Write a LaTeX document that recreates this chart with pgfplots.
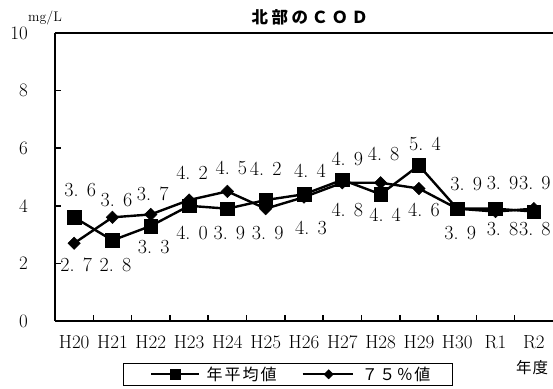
\documentclass[border=0pt]{standalone}
\usepackage{pgfplots}
\usepackage{pgfplotstable}
\pgfplotsset{compat=1.18}
\usepackage{fontspec}
\newfontfamily\cjk{Noto Sans CJK JP}

\pgfplotstableread{
x y dx dy
0 3.6 6 27
1 2.8 3 -25
2 3.3 3 -21
3 4.0 3 -27
4 3.9 2 -24
5 4.2 0 31
6 4.4 6 23
7 4.9 5 21
8 4.4 4.5 -21
9 5.4 6 22
10 3.9 9 25
11 3.9 7 26
12 3.8 1 -17
}\avg

\pgfplotstableread{
x y dx dy
0 2.7 2 -22
1 3.6 4 17
2 3.7 2 21
3 4.2 3 27
4 4.5 4 23
5 3.9 2 -24
6 4.3 7 -31
7 4.8 5 -27
8 4.8 3 29
9 4.6 5 -21
10 3.9 3 -24
11 3.8 7 -17
12 3.9 1 26
}\pct

\begin{document}
\begin{tikzpicture}
\begin{axis}[
  scale only axis, width=498pt, height=288pt,
  xmin=-0.5, xmax=12.5, ymin=0, ymax=10,
  enlargelimits=false, clip=false,
  axis x line=box, axis y line=left,
  axis line style={-, line width=2pt, black},
  xtick={0,...,12},
  xticklabels={H20,H21,H22,H23,H24,H25,H26,H27,H28,H29,H30,R1,R2},
  major x tick style={draw=none},
  minor xtick={0.5,1.5,...,11.5},
  minor x tick style={black, line width=1.5pt},
  minor tick length=6pt,
  xtick pos=bottom,
  ytick={0,2,...,10},
  ytick pos=left,
  y tick style={black, line width=1.5pt},
  major tick length=6pt,
  tick align=inside,
  xticklabel style={font=\fontsize{19}{19}\selectfont, anchor=north, inner sep=0pt, yshift=-14pt},
  yticklabel style={font=\fontsize{19}{19}\selectfont, anchor=east, inner sep=0pt, xshift=-27pt},
  /pgf/number format/assume math mode=true,
  legend columns=2,
  legend style={draw=black, line width=0.6pt, at={(0.1365,-0.1458)}, anchor=north west,
    font=\cjk\fontsize{16}{18}\selectfont, inner xsep=20pt, inner ysep=1.5pt,
    nodes={inner sep=2pt},
    /tikz/every even column/.append style={column sep=23pt}},
  legend cell align=left,
  nodes near coords={\pgfmathprintnumber[fixed,precision=1,zerofill,assume math mode=true,set decimal separator={\makebox[0.66em][l]{.}}]{\pgfplotspointmeta}},
  point meta=y,
  every node near coord/.append style={anchor=center, inner sep=0pt, font=\fontsize{20}{20}\selectfont, black},
  visualization depends on={\thisrow{dx} \as \dx},
  visualization depends on={\thisrow{dy} \as \dy},
  nodes near coords style={xshift={\dx pt}, yshift={\dy pt}},
]
\addplot[black, line width=2.4pt, mark=square*, mark size=6.8pt, mark options={solid, line width=0.5pt},
  legend image code/.code={\path (0pt,0pt); \draw[black, line width=2.2pt] (7pt,0pt) -- (55pt,0pt);
    \draw[black, line width=0.4pt, mark=square*, mark size=4.8pt] plot coordinates {(31pt,0pt)};}]
  table[x=x, y=y] {\avg};
\addlegendentry{\hspace{4pt}年\kern2pt 平\kern2pt 均\kern2pt 値}
\addplot[black, line width=2.4pt, mark=square*, mark size=4.4pt, mark options={solid, rotate=45, line width=0.5pt},
  legend image code/.code={\draw[black, line width=2.2pt] (0pt,0pt) -- (50pt,0pt);
    \draw[black, line width=0.4pt, mark=square*, mark size=3.3pt, mark options={rotate=45}] plot coordinates {(26pt,0pt)};}]
  table[x=x, y=y] {\pct};
\addlegendentry{\hspace{6pt}７\kern1.5pt ５\kern1.5pt ％\kern1.5pt 値}
\node[anchor=center, inner sep=0pt] at (axis description cs:0.512,1.0556)
  {\cjk\bfseries\fontsize{16.5}{16.5}\selectfont 北\kern3.5pt 部\kern3.5pt の\kern3.5pt Ｃ\kern3.5pt Ｏ\kern3.5pt Ｄ};
\node[anchor=base west, inner sep=0pt] at (axis description cs:-0.0542,1.0382)
  {\fontsize{14}{14}\selectfont mg/L};
\node[anchor=center, inner sep=0pt] at (axis description cs:0.958,-0.163)
  {\cjk\fontsize{15.5}{15.5}\selectfont 年\kern1pt 度};
\coordinate (bl) at (axis description cs:-0.11044,-0.23611);
\coordinate (tr) at (axis description cs:1,1.11458);
\end{axis}
\pgfresetboundingbox
\path[use as bounding box] (bl) rectangle (tr);
\end{tikzpicture}
\end{document}
